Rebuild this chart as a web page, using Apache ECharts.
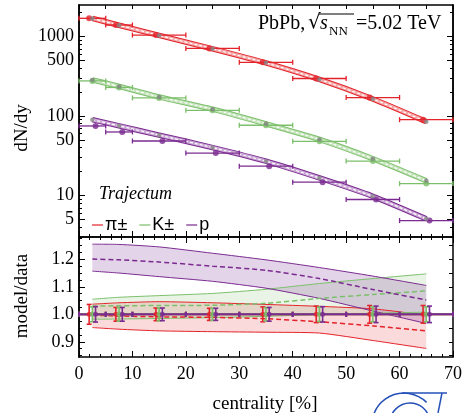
<!DOCTYPE html>
<html>
<head>
<meta charset="utf-8">
<script src="https://cdn.jsdelivr.net/npm/echarts@6/dist/echarts.min.js"></script>
<style>
  html, body { margin: 0; padding: 0; background: #fff; }
  #chart { width: 465px; height: 413px; }
</style>
</head>
<body>
<div id="chart"></div>
<script>
// centrality bins
const binLo = [0, 5, 10, 20, 30, 40, 50, 60];
const binHi = [5, 10, 20, 30, 40, 50, 60, 70];
const centers = [2.5, 7.5, 15, 25, 35, 45, 55, 65];
const pionX = [1.9, 6.9, 14.4, 24.4, 34.4, 44.4, 54.4, 64.4];
const kaonX = [2.5, 7.5, 15, 25, 35, 45, 55, 65];
const protonX = [3.1, 8.1, 15.6, 25.6, 35.6, 45.6, 55.6, 65.6];

// dN/dy data and model
const pionData = [1700, 1400, 1045, 710, 474, 297, 171, 90];
const kaonData = [277, 229, 169, 118, 76.6, 48.1, 27.1, 14.1];
const protonData = [75, 63, 48.5, 34.2, 23.4, 14.7, 8.9, 4.83];
const pionModel = [1695, 1390, 1035, 702, 467, 289, 164, 85];
const kaonModel = [285, 236, 174, 122, 79.7, 50.7, 29.0, 15.3];
const protonModel = [90, 75.3, 57.5, 40.1, 27.0, 16.6, 9.75, 5.08];

// model/data
const pionRatio = [0.997, 0.994, 0.991, 0.989, 0.984, 0.973, 0.958, 0.940];
const pionRatioHi = [1.037, 1.042, 1.046, 1.042, 1.036, 1.029, 1.020, 0.997];
const pionRatioLo = [0.952, 0.946, 0.940, 0.937, 0.935, 0.932, 0.905, 0.876];
const kaonRatio = [1.030, 1.031, 1.032, 1.033, 1.040, 1.058, 1.072, 1.085];
const kaonRatioHi = [1.055, 1.062, 1.068, 1.076, 1.091, 1.112, 1.130, 1.147];
const kaonRatioLo = [0.982, 0.983, 0.985, 0.988, 0.993, 0.999, 1.004, 1.008];
const protonRatio = [1.201, 1.198, 1.190, 1.175, 1.160, 1.130, 1.090, 1.052];
const protonRatioHi = [1.255, 1.254, 1.245, 1.222, 1.198, 1.170, 1.139, 1.105];
const protonRatioLo = [1.157, 1.150, 1.137, 1.120, 1.095, 1.058, 1.012, 0.967];
const pionErr = [0.036, 0.025, 0.023, 0.022, 0.027, 0.030, 0.032, 0.032];
const kaonErr = [0.027, 0.025, 0.024, 0.022, 0.024, 0.026, 0.027, 0.027];
const protonErr = [0.028, 0.025, 0.023, 0.022, 0.025, 0.028, 0.030, 0.030];

// ticks
const logMajor = [5, 10, 50, 100, 500, 1000];
const logMinor = [3, 4, 6, 7, 8, 9, 20, 30, 40, 60, 70, 80, 90, 200, 300, 400, 600, 700, 800, 900, 2000];
const ratioMajor = [0.9, 1.0, 1.1, 1.2];
const ratioMinor = [0.85, 0.875, 0.925, 0.95, 0.975, 1.025, 1.05, 1.075, 1.125, 1.15, 1.175, 1.225, 1.25, 1.275];
const ratioRight = [0.85, 0.9, 0.95, 1.0, 1.05, 1.1, 1.15, 1.2, 1.25];

const RED = '#e3232a', GREEN = '#7cbf6b', PURPLE = '#7a2a90';
const SERIF = '"Liberation Serif", "DejaVu Serif", serif';
const lg = v => Math.log10(v);

const species = [
  {name: 'π±', color: RED, light: '#f3a5a5', x: pionX, data: pionData, model: pionModel,
   ratio: pionRatio, hi: pionRatioHi, lo: pionRatioLo, err: pionErr, fill: 'rgba(227,35,42,0.17)'},
  {name: 'K±', color: GREEN, light: '#c3e2b9', x: kaonX, data: kaonData, model: kaonModel,
   ratio: kaonRatio, hi: kaonRatioHi, lo: kaonRatioLo, err: kaonErr, fill: 'rgba(124,191,107,0.17)'},
  {name: 'p', color: PURPLE, light: '#c9a6d3', x: protonX, data: protonData, model: protonModel,
   ratio: protonRatio, hi: protonRatioHi, lo: protonRatioLo, err: protonErr, fill: 'rgba(122,42,144,0.2)'}
];

function hbar(color, capH, width) {
  return function (params, api) {
    const y = api.value(2);
    const a = api.coord([api.value(0), y]);
    const b = api.coord([api.value(1), y]);
    const st = {stroke: color, lineWidth: width};
    return {type: 'group', children: [
      {type: 'line', shape: {x1: a[0], y1: a[1], x2: b[0], y2: b[1]}, style: st},
      {type: 'line', shape: {x1: a[0], y1: a[1] - capH, x2: a[0], y2: a[1] + capH}, style: st},
      {type: 'line', shape: {x1: b[0], y1: b[1] - capH, x2: b[0], y2: b[1] + capH}, style: st}
    ]};
  };
}

function vbar(color) {
  return function (params, api) {
    const x = api.value(0), y = api.value(1), e = api.value(2);
    const a = api.coord([x, y + e]);
    const b = api.coord([x, y - e]);
    const st = {stroke: color, lineWidth: 1.6};
    return {type: 'group', children: [
      {type: 'line', shape: {x1: a[0], y1: a[1], x2: b[0], y2: b[1]}, style: st},
      {type: 'line', shape: {x1: a[0] - 2.5, y1: a[1], x2: a[0] + 2.5, y2: a[1]}, style: st},
      {type: 'line', shape: {x1: b[0] - 2.5, y1: b[1], x2: b[0] + 2.5, y2: b[1]}, style: st}
    ]};
  };
}

function band(s) {
  return function (params, api) {
    if (params.dataIndex !== 0) return null;
    const pts = [];
    centers.forEach((c, i) => pts.push(api.coord([c, s.hi[i]])));
    for (let i = centers.length - 1; i >= 0; i--) pts.push(api.coord([centers[i], s.lo[i]]));
    return {type: 'polygon', shape: {points: pts}, style: {fill: s.fill}};
  };
}

const series = [];
// top panel
species.forEach(s => {
  const modelPts = centers.map((c, i) => [c, lg(s.model[i])]);
  series.push({type: 'line', xAxisIndex: 0, yAxisIndex: 0, data: modelPts, symbol: 'none', smooth: 0.2,
    lineStyle: {color: s.color, width: 5.5}, z: 2, silent: true});
  series.push({type: 'line', xAxisIndex: 0, yAxisIndex: 0, data: modelPts, symbol: 'none', smooth: 0.2,
    lineStyle: {color: s.light, width: 3.5}, z: 3, silent: true});
  series.push({type: 'line', xAxisIndex: 0, yAxisIndex: 0, data: modelPts, symbol: 'none', smooth: 0.2,
    lineStyle: {color: '#fff', width: 1.2, type: [3, 2]}, z: 4, silent: true});
  series.push({type: 'custom', xAxisIndex: 0, yAxisIndex: 0, renderItem: hbar(s.color, 2.5, 1.3),
    data: binLo.map((l, i) => [l, binHi[i], lg(s.data[i])]), z: 5, silent: true});
  series.push({type: 'scatter', name: s.name, xAxisIndex: 0, yAxisIndex: 0, symbolSize: 6,
    itemStyle: {color: s.color}, data: s.x.map((x, i) => [x, lg(s.data[i])]), z: 6});
  series.push({type: 'scatter', xAxisIndex: 0, yAxisIndex: 0, symbolSize: 4.5,
    itemStyle: {color: '#858585'}, data: modelPts, z: 7, silent: true});
});
// ratio panel
species.forEach(s => {
  series.push({type: 'custom', xAxisIndex: 2, yAxisIndex: 4, renderItem: band(s),
    data: centers.map((c, i) => [c, s.lo[i], s.hi[i]]), z: 2, silent: true});
  series.push({type: 'line', xAxisIndex: 2, yAxisIndex: 4, data: centers.map((c, i) => [c, s.hi[i]]),
    symbol: 'none', smooth: 0.2, lineStyle: {color: s.color, width: 1}, z: 3, silent: true});
  series.push({type: 'line', xAxisIndex: 2, yAxisIndex: 4, data: centers.map((c, i) => [c, s.lo[i]]),
    symbol: 'none', smooth: 0.2, lineStyle: {color: s.color, width: 1}, z: 3, silent: true});
  series.push({type: 'line', xAxisIndex: 2, yAxisIndex: 4, data: centers.map((c, i) => [c, s.ratio[i]]),
    symbol: 'none', smooth: 0.2, lineStyle: {color: s.color, width: 1.5, type: [5, 3]}, z: 4, silent: true});
});
species.forEach(s => {
  series.push({type: 'custom', xAxisIndex: 2, yAxisIndex: 4, renderItem: hbar(s.color, 2.5, 2),
    data: binLo.map((l, i) => [l, binHi[i], 1]), z: 5, silent: true});
});
species.forEach(s => {
  series.push({type: 'custom', xAxisIndex: 2, yAxisIndex: 4, renderItem: vbar(s.color),
    data: s.x.map((x, i) => [x, 1, s.err[i]]), z: 6, silent: true});
  series.push({type: 'scatter', xAxisIndex: 2, yAxisIndex: 4, symbolSize: 5,
    itemStyle: {color: s.color}, data: s.x.map(x => [x, 1]), z: 7, silent: true});
});

const frame = {show: true, lineStyle: {color: '#000', width: 1.5}};
const tickStyle = {color: '#000', width: 1};
const labelStyle = {color: '#000', fontFamily: SERIF, fontSize: 18};

function xAx(grid, pos, opts) {
  return Object.assign({type: 'value', gridIndex: grid, position: pos, min: 0, max: 70, interval: 10,
    axisLine: frame, splitLine: {show: false},
    axisTick: {inside: true, length: 6, lineStyle: tickStyle},
    minorTick: {show: true, splitNumber: 5, length: 3, lineStyle: tickStyle},
    axisLabel: {show: false}}, opts);
}
function yAx(grid, pos, min, max, ticks, len, labels, fmt) {
  return {type: 'value', gridIndex: grid, position: pos, min: min, max: max,
    axisLine: frame, splitLine: {show: false},
    axisTick: {inside: true, length: len, customValues: ticks, lineStyle: tickStyle},
    axisLabel: labels ? Object.assign({customValues: labels, margin: 5, formatter: fmt}, labelStyle) : {show: false}};
}

const logMin = lg(3), logMax = lg(2500);
const option = {
  animation: false,
  grid: [
    {left: 79, right: 12, top: 5, height: 232},
    {left: 79, right: 12, top: 237, height: 120}
  ],
  xAxis: [
    xAx(0, 'bottom', {}),
    xAx(0, 'top', {interval: 5, minorTick: {show: false}, axisTick: {inside: true, length: 4, lineStyle: tickStyle}}),
    xAx(1, 'bottom', {axisLabel: Object.assign({show: true, margin: 8}, labelStyle)}),
    xAx(1, 'top', {})
  ],
  yAxis: [
    yAx(0, 'left', logMin, logMax, logMajor.map(lg), 6, logMajor.map(lg), v => String(Math.round(Math.pow(10, v)))),
    yAx(0, 'left', logMin, logMax, logMinor.map(lg), 3, null),
    yAx(0, 'right', logMin, logMax, logMajor.map(lg), 6, null),
    yAx(0, 'right', logMin, logMax, logMinor.map(lg), 3, null),
    yAx(1, 'left', 0.845, 1.281, ratioMajor, 6, ratioMajor, v => v.toFixed(1)),
    yAx(1, 'left', 0.845, 1.281, ratioMinor, 3, null),
    yAx(1, 'right', 0.845, 1.281, ratioRight, 4, null)
  ],
  legend: {
    data: species.map(s => s.name), left: 87, top: 211, icon: 'rect', itemWidth: 11, itemHeight: 1.5,
    itemGap: 12, textStyle: {fontFamily: '"Liberation Sans", Arial, sans-serif', fontSize: 18, color: '#000', padding: [0, 0, 0, -3]}
  },
  graphic: [
    {type: 'text', left: 99, top: 185, style: {text: 'Trajectum', font: 'italic 18px ' + SERIF, fill: '#000'}},
    {type: 'text', left: 258, top: 14, style: {text: 'PbPb,', font: '20px ' + SERIF, fill: '#000'}},
    {type: 'text', left: 308, top: 13, style: {text: '√', font: '20px "DejaVu Serif", serif', fill: '#000'}},
    {type: 'line', shape: {x1: 319, y1: 14, x2: 354, y2: 14}, style: {stroke: '#000', lineWidth: 1}},
    {type: 'text', left: 320, top: 14, style: {text: 's', font: 'italic 20px ' + SERIF, fill: '#000'}},
    {type: 'text', left: 329, top: 25, style: {text: 'NN', font: '13px ' + SERIF, fill: '#000'}},
    {type: 'text', left: 356, top: 14, style: {text: '=5.02 TeV', font: '20px ' + SERIF, fill: '#000'}},
    {type: 'text', x: 22, y: 128, rotation: Math.PI / 2,
      style: {text: 'dN/dy', font: '19px ' + SERIF, fill: '#000', align: 'center', verticalAlign: 'middle'}},
    {type: 'text', x: 22, y: 296, rotation: Math.PI / 2,
      style: {text: 'model/data', font: '19px ' + SERIF, fill: '#000', align: 'center', verticalAlign: 'middle'}},
    {type: 'text', x: 265, y: 404,
      style: {text: 'centrality [%]', font: '19px ' + SERIF, fill: '#000', align: 'center', verticalAlign: 'middle'}},
    {type: 'arc', shape: {cx: 404, cy: 425, r: 32, startAngle: Math.PI * 1.05, endAngle: Math.PI * 1.75},
      style: {stroke: '#2450b8', lineWidth: 1.5, fill: null}},
    {type: 'arc', shape: {cx: 410, cy: 423, r: 20, startAngle: Math.PI * 1.0, endAngle: Math.PI * 1.95},
      style: {stroke: '#2450b8', lineWidth: 1.5, fill: null}},
    {type: 'line', shape: {x1: 402, y1: 393, x2: 447, y2: 393}, style: {stroke: '#2450b8', lineWidth: 1.5}},
    {type: 'line', shape: {x1: 442, y1: 393, x2: 438, y2: 413}, style: {stroke: '#2450b8', lineWidth: 1.5}}
  ],
  series: series
};

const chart = echarts.init(document.getElementById('chart'), null, {renderer: 'canvas'});
chart.setOption(option);
</script>
</body>
</html>
